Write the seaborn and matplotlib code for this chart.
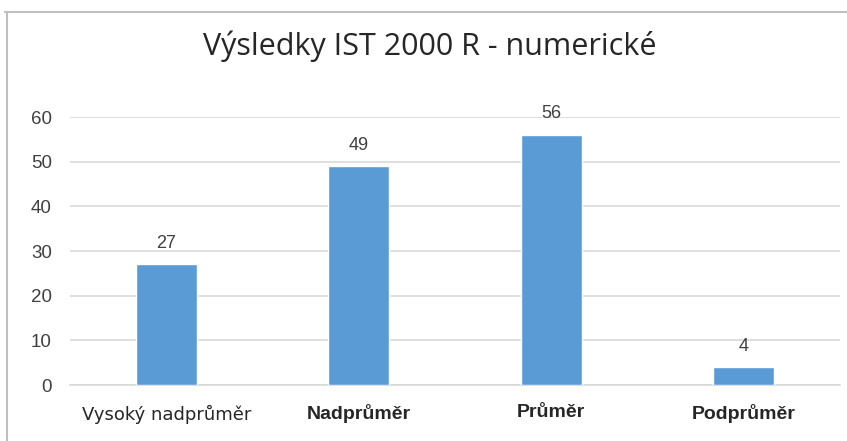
import matplotlib
matplotlib.use("Agg")
import matplotlib.pyplot as plt
import seaborn as sns
import pandas as pd
from matplotlib.lines import Line2D

categories = ["Vysoký nadprůměr", "Nadprůměr", "Průměr", "Podprůměr"]
values = [27, 49, 56, 4]
yticks = [0, 10, 20, 30, 40, 50, 60]
title = "Výsledky IST 2000 R - numerické"

sns.set_theme(style="white")
plt.rcParams['font.family'] = ['Liberation Sans', 'DejaVu Sans']

df = pd.DataFrame({"cat": categories, "val": values})

fig = plt.figure(figsize=(8.47, 4.41), dpi=100)
ax = fig.add_axes([70/847, 1-385/441, 770/847, (385-117)/441])

sns.barplot(data=df, x="cat", y="val", color="#5B9BD5", width=0.317,
            saturation=1, ax=ax, zorder=3)

ax.set_xlim(-0.5, 3.5)
ax.set_ylim(0, 60)
ax.set_yticks(yticks)
ax.set_yticklabels([str(t) for t in yticks], fontsize=13.5, color="#404040")
ax.tick_params(axis='y', length=0, pad=13)
ax.tick_params(axis='x', length=0, pad=14)
ax.yaxis.grid(True, color="#D9D9D9", linewidth=1.2, zorder=0)
ax.set_axisbelow(True)
for s in ["top", "right", "left"]:
    ax.spines[s].set_visible(False)
ax.spines["bottom"].set_color("#D9D9D9")
ax.spines["bottom"].set_linewidth(1.2)
ax.set_xlabel("")
ax.set_ylabel("")

ax.set_xticks(range(len(categories)))
labels = ax.set_xticklabels(categories)
for i, lab in enumerate(labels):
    lab.set_color("#262626")
    if i == 0:
        lab.set_fontsize(13)
        lab.set_fontweight("normal")
        lab.set_family(["DejaVu Sans"])
    else:
        lab.set_fontsize(14)
        lab.set_fontweight("bold")

for i, v in enumerate(values):
    ax.annotate(str(v), (i, v), xytext=(0, 9), textcoords="offset points",
                ha="center", va="bottom", fontsize=13, color="#404040")

fig.text(430/847, 1-46/441, title, ha="center", va="center",
         fontsize=22, color="#262626", family=["Open Sans", "DejaVu Sans"])

# outer chart frame (top and left edges visible)
fig.add_artist(Line2D([5/847, 1.0], [1-12/441, 1-12/441], color="#BFBFBF", linewidth=1.5))
fig.add_artist(Line2D([7/847, 7/847], [0, 1-12/441], color="#BFBFBF", linewidth=1.5))

fig.savefig("out.png", dpi=100, facecolor="white")
